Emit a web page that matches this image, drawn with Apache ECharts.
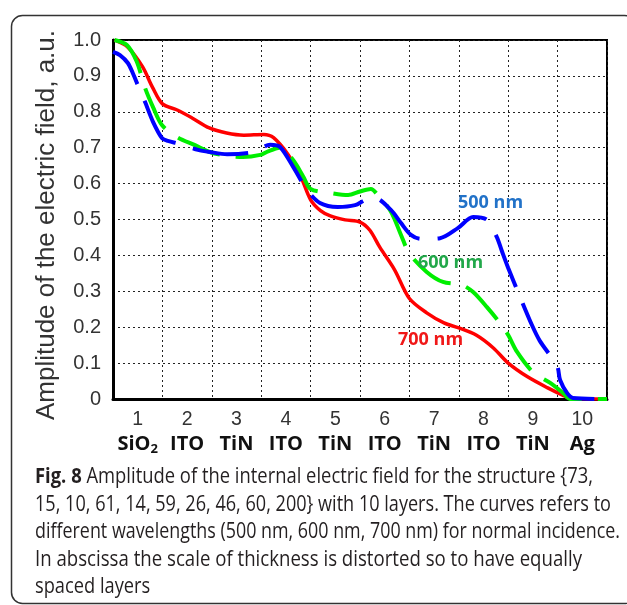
<!DOCTYPE html>
<html><head><meta charset="utf-8">
<script src="https://cdn.jsdelivr.net/npm/echarts@6.0.0/dist/echarts.min.js"></script>
<style>html,body{margin:0;padding:0;background:#fff}#c{width:627px;height:605px}</style>
</head><body><div id="c"></div>
<script>
// ---- data ----
const layerNumbers = ['1','2','3','4','5','6','7','8','9','10'];
const layerMaterials = ['SiO','ITO','TiN','ITO','TiN','ITO','TiN','ITO','TiN','Ag'];
const layerSubscripts = ['2','','','','','','','','',''];
const yTickMin = 0, yTickMax = 1.0, yTickStep = 0.1;

const x700 = [0.03,0.3,0.6,0.8,1.0,1.3,1.6,1.95,2.3,2.65,3.05,3.25,3.55,3.8,4.0,4.2,4.4,4.7,5.0,5.2,5.4,5.7,6.0,6.35,6.7,7.0,7.35,7.7,8.0,8.4,8.8,9.1,9.3,10];
const y700 = [1.0,0.98,0.925,0.868,0.822,0.805,0.783,0.755,0.741,0.735,0.737,0.728,0.68,0.62,0.555,0.525,0.51,0.499,0.493,0.47,0.423,0.36,0.28,0.24,0.212,0.198,0.178,0.142,0.1,0.061,0.031,0.011,0,0];

const x600 = [0.03,0.28,0.48,0.65,0.81,0.99,1.29,1.66,1.96,2.31,2.63,2.98,3.14,3.4,3.65,3.85,4.0,4.4,4.76,5.0,5.22,5.36,5.63,5.83,6.0,6.35,6.68,7.06,7.29,7.57,7.83,8.0,8.18,8.5,8.85,9.11,9.25,10];
const y600 = [1.0,0.986,0.94,0.866,0.813,0.763,0.73,0.707,0.688,0.677,0.674,0.68,0.69,0.70,0.665,0.62,0.585,0.574,0.568,0.578,0.585,0.568,0.521,0.457,0.405,0.354,0.326,0.318,0.298,0.256,0.212,0.178,0.131,0.075,0.045,0.017,0,0];

const x500 = [0,0.14,0.3,0.4,0.5,0.65,0.81,0.99,1.11,1.36,1.72,1.96,2.31,2.84,3.18,3.38,3.65,3.93,4.19,4.55,4.9,5.1,5.3,5.63,5.83,6.03,6.23,6.62,6.98,7.29,7.57,7.77,7.87,8.0,8.24,8.48,8.64,8.99,9.05,9.19,9.31,10];
const y500 = [0.967,0.958,0.936,0.908,0.875,0.827,0.772,0.727,0.719,0.71,0.694,0.688,0.682,0.688,0.708,0.702,0.646,0.582,0.546,0.535,0.54,0.554,0.56,0.526,0.49,0.457,0.446,0.448,0.476,0.507,0.499,0.451,0.413,0.365,0.284,0.206,0.162,0.092,0.053,0.017,0.003,0];

const seriesNames = ['700 nm','600 nm','500 nm'];
const yTitle = 'Amplitude of the electric field, a.u.';
const captionLines = [
  ['Fig. 8', ' Amplitude of the internal electric field for the structure {73,'],
  ['', '15, 10, 61, 14, 59, 26, 46, 60, 200} with 10 layers. The curves refers to'],
  ['', 'different wavelengths (500 nm, 600 nm, 700 nm) for normal incidence.'],
  ['', 'In abscissa the scale of thickness is distorted so to have equally'],
  ['', 'spaced layers']
];
const captionRightEdges = [593, 611, 620, 582, null];

// ---- build ----
const pairs = (xs, ys) => xs.map((x, i) => [x, ys[i]]);
const ctx = document.createElement('canvas').getContext('2d');
const capFont = 21;
const capLeft = 35;
function lineWidth(l) {
  ctx.font = 'bold ' + capFont + 'px "Open Sans"';
  let w = l[0] ? ctx.measureText(l[0]).width : 0;
  ctx.font = capFont + 'px "Open Sans"';
  return w + ctx.measureText(l[1]).width;
}
const scales = captionLines.map((l, i) => captionRightEdges[i] ? (captionRightEdges[i] - capLeft) / lineWidth(l) : null);
const known = scales.filter(s => s);
const avgScale = known.reduce((a, b) => a + b, 0) / known.length;
ctx.font = '26px "Liberation Sans"';
const titleSize = 26 * 390 / ctx.measureText(yTitle).width;

const chart = echarts.init(document.getElementById('c'), null, {renderer: 'canvas'});
const graphics = [
  {type: 'rect', shape: {x: 11.5, y: 15.5, width: 624, height: 588, r: 11}, style: {fill: 'none', stroke: '#333', lineWidth: 1.5}, silent: true, z: -1},
  {type: 'text', x: 47, y: 225, rotation: Math.PI / 2, style: {text: yTitle, font: titleSize.toFixed(2) + 'px "Liberation Sans"', fill: '#333', align: 'center', verticalAlign: 'middle'}},
  {type: 'text', x: 458, y: 203, style: {text: seriesNames[2], font: 'bold 18px "Open Sans"', fill: '#2272c8', align: 'left', verticalAlign: 'middle'}, z: 10},
  {type: 'text', x: 418, y: 263, style: {text: seriesNames[1], font: 'bold 18px "Open Sans"', fill: '#22a84a', align: 'left', verticalAlign: 'middle'}, z: 10},
  {type: 'text', x: 398, y: 340, style: {text: seriesNames[0], font: 'bold 18px "Open Sans"', fill: '#f01818', align: 'left', verticalAlign: 'middle'}, z: 10}
];
captionLines.forEach((l, i) => {
  const txt = (l[0] ? '{b|' + l[0] + '}' : '') + '{r|' + l[1].replace(/[{}]/g, m => m) + '}';
  graphics.push({type: 'text', x: capLeft, y: 477 + i * 27.6, scaleX: scales[i] || avgScale,
    style: {text: l[0] ? undefined : undefined, fill: '#231f20', align: 'left', verticalAlign: 'middle'}});
  // plain text children to avoid brace parsing in rich text
  graphics.pop();
  let x = capLeft;
  const sc = scales[i] || avgScale;
  if (l[0]) {
    ctx.font = 'bold ' + capFont + 'px "Open Sans"';
    graphics.push({type: 'text', x: x, y: 477 + i * 27.6, scaleX: sc,
      style: {text: l[0], font: 'bold ' + capFont + 'px "Open Sans"', fill: '#231f20', align: 'left', verticalAlign: 'middle'}});
    x += ctx.measureText(l[0]).width * sc;
  }
  graphics.push({type: 'text', x: x, y: 477 + i * 27.6, scaleX: sc,
    style: {text: l[1], font: capFont + 'px "Open Sans"', fill: '#231f20', align: 'left', verticalAlign: 'middle'}});
});

const dotted = {color: '#222', width: 1, type: [2, 3]};
chart.setOption({
  animation: false,
  backgroundColor: '#fff',
  grid: {left: 113, top: 40, right: 20, bottom: 206, show: true, borderColor: '#000', borderWidth: 2, containLabel: false},
  xAxis: [
    {type: 'value', min: 0, max: 10, interval: 1,
     axisLine: {show: true, onZero: false, lineStyle: {color: '#000', width: 3}},
     axisTick: {show: false}, axisLabel: {show: false},
     splitLine: {show: true, lineStyle: dotted}},
    {type: 'category', data: layerNumbers, boundaryGap: true, position: 'bottom',
     axisLine: {show: false}, axisTick: {show: false}, splitLine: {show: false},
     axisLabel: {interval: 0, margin: 9,
       formatter: (v, i) => '{n|' + v + '}\n{m|' + layerMaterials[i] + '}' + (layerSubscripts[i] ? '{s|' + layerSubscripts[i] + '}' : ''),
       rich: {
         n: {fontFamily: 'Liberation Sans', fontSize: 19.5, color: '#333', lineHeight: 24},
         m: {fontFamily: 'Open Sans', fontWeight: 'bold', fontSize: 20, color: '#111', lineHeight: 24},
         s: {fontFamily: 'Open Sans', fontWeight: 'bold', fontSize: 13, color: '#111', lineHeight: 12, verticalAlign: 'bottom'}
       }}}
  ],
  yAxis: {type: 'value', min: yTickMin, max: yTickMax, interval: yTickStep,
    axisLine: {show: true, lineStyle: {color: '#000', width: 3}},
    axisTick: {show: false},
    axisLabel: {margin: 12, fontFamily: 'Liberation Sans', fontSize: 20, color: '#333',
      formatter: v => v === 0 ? '0' : v.toFixed(1)},
    splitLine: {show: true, lineStyle: dotted}},
  series: [
    {name: seriesNames[0], type: 'line', xAxisIndex: 0, data: pairs(x700, y700), showSymbol: false, smooth: 0.3,
     lineStyle: {color: '#ff0000', width: 3.5}, z: 3},
    {name: seriesNames[1], type: 'line', xAxisIndex: 0, data: pairs(x600, y600), showSymbol: false, smooth: 0.3,
     lineStyle: {color: '#00ee00', width: 4, type: [45, 16]}, z: 4},
    {name: seriesNames[2], type: 'line', xAxisIndex: 0, data: pairs(x500, y500), showSymbol: false, smooth: 0.3,
     lineStyle: {color: '#0000ff', width: 4, type: [56, 18], dashOffset: 14}, z: 5}
  ],
  graphic: graphics
});
</script></body></html>
